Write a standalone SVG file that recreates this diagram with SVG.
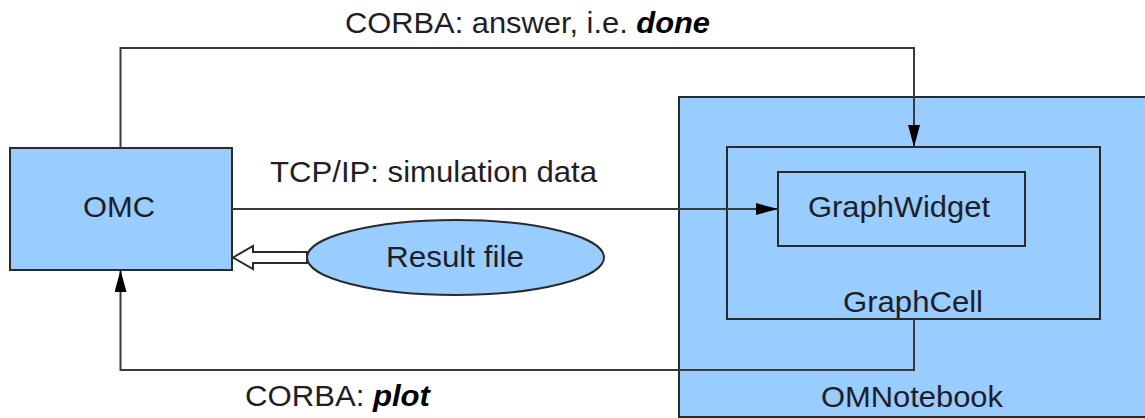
<svg xmlns="http://www.w3.org/2000/svg" width="1145" height="418" viewBox="0 0 1145 418">
<style>
.box{fill:#99ccff;stroke:#2a2a2a;stroke-width:2}
.conn{fill:none;stroke:#3a3a3a;stroke-width:2}
.t{font-family:"Liberation Sans",Arial,sans-serif;font-size:29px;fill:#1e1e28}
.b{font-weight:bold;font-style:italic;fill:#000}
</style>
<defs>
<marker id="ah" markerUnits="userSpaceOnUse" markerWidth="22" markerHeight="12" refX="22" refY="6" orient="auto">
<path d="M0,0 L22,6 L0,12 z" fill="#000"/>
</marker>
</defs>
<rect width="1145" height="418" fill="#fff"/>
<g id="omnotebook">
<rect class="box" x="679" y="97" width="480" height="320"/>
<text class="t" x="912" y="407" text-anchor="middle" textLength="182" lengthAdjust="spacingAndGlyphs">OMNotebook</text>
</g>
<g id="graphcell">
<rect class="box" x="727" y="147" width="373" height="172"/>
<text class="t" x="913" y="312" text-anchor="middle" textLength="140" lengthAdjust="spacingAndGlyphs">GraphCell</text>
</g>
<g id="graphwidget">
<rect class="box" x="778" y="172" width="247" height="74"/>
<text class="t" x="899" y="217" text-anchor="middle" textLength="182" lengthAdjust="spacingAndGlyphs">GraphWidget</text>
</g>
<g id="omc">
<rect class="box" x="10" y="148" width="222" height="122"/>
<text class="t" x="119" y="217" text-anchor="middle" textLength="72" lengthAdjust="spacingAndGlyphs">OMC</text>
</g>
<g id="resultfile">
<ellipse class="box" cx="455.5" cy="257.5" rx="148.5" ry="37.5"/>
<text class="t" x="455" y="267" text-anchor="middle" textLength="138" lengthAdjust="spacingAndGlyphs">Result file</text>
</g>
<g id="connectors">
<path class="conn" d="M120.5,148 V48 H914 V147" marker-end="url(#ah)"/>
<path class="conn" d="M232,209 H778" marker-end="url(#ah)"/>
<path class="conn" d="M914,319 V370 H120.5 V270" marker-end="url(#ah)"/>
<polygon points="233,257.5 253,246 253,252 307,252 307,263 253,263 253,269" fill="#fff" stroke="#2a2a2a" stroke-width="2" stroke-linejoin="miter"/>
<text class="t" x="345" y="33" textLength="365" lengthAdjust="spacingAndGlyphs">CORBA: answer, i.e. <tspan class="b">done</tspan></text>
<text class="t" x="270" y="182" textLength="327" lengthAdjust="spacingAndGlyphs">TCP/IP: simulation data</text>
<text class="t" x="245" y="406" textLength="185" lengthAdjust="spacingAndGlyphs">CORBA: <tspan class="b">plot</tspan></text>
</g>
</svg>
